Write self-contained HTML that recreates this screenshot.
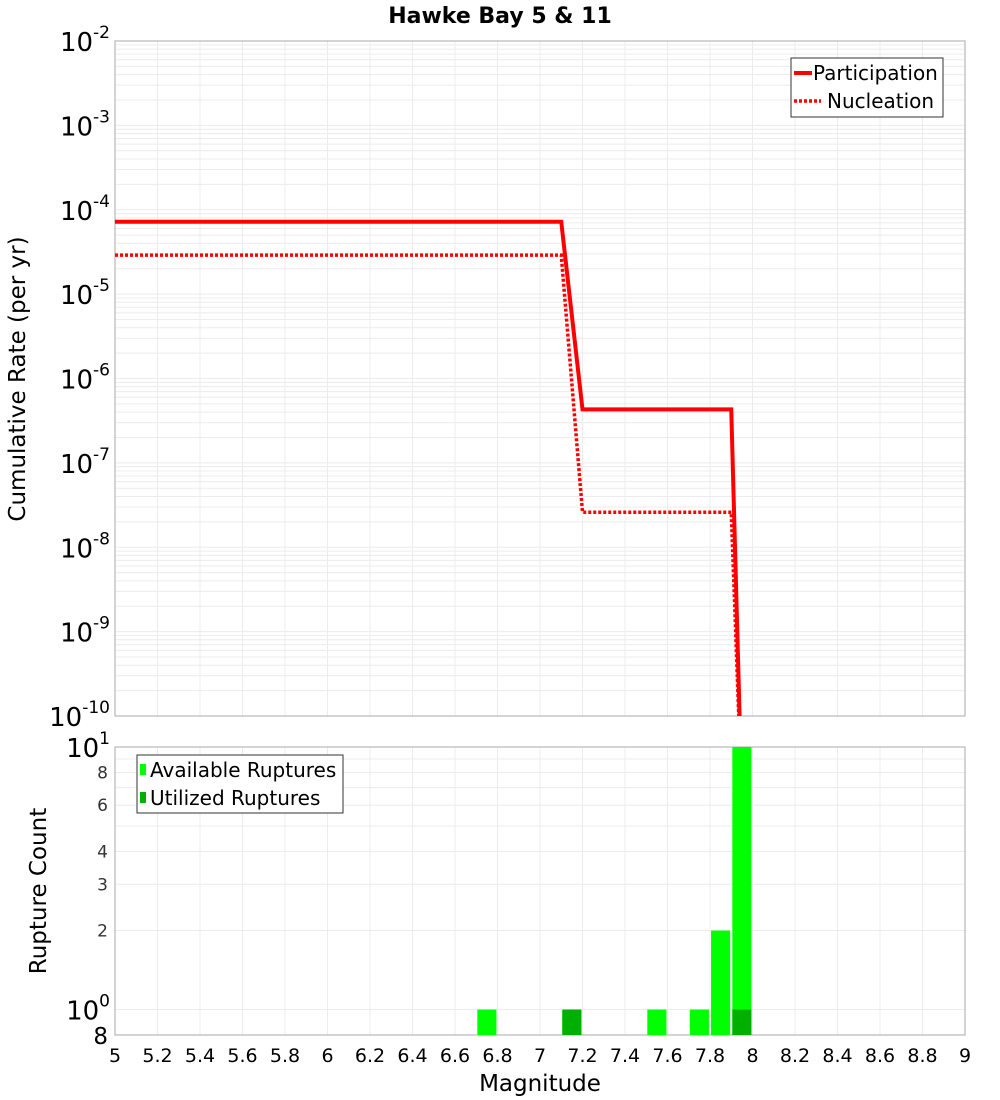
<!DOCTYPE html>
<html><head><meta charset="utf-8"><style>body{margin:0;background:#fff}svg{display:block;font-family:"DejaVu Sans","Liberation Sans",sans-serif}</style></head>
<body>
<svg id="c" width="1000" height="1100" xmlns="http://www.w3.org/2000/svg"></svg>
<script>
const partM=[5,7.1,7.2,7.9,7.95];
const partR=[7.2e-5,7.2e-5,4.3e-7,4.3e-7,1e-11];
const nuclM=[5,7.1,7.2,7.9,7.95];
const nuclR=[2.9e-5,2.9e-5,2.6e-8,2.6e-8,1e-11];
const binM=[6.75,7.15,7.55,7.75,7.85,7.95];
const availC=[1,1,1,1,2,10];
const utilC=[0,1,0,0,0,1];
const xTicks=[5,5.2,5.4,5.6,5.8,6,6.2,6.4,6.6,6.8,7,7.2,7.4,7.6,7.8,8,8.2,8.4,8.6,8.8,9];
const xTickLabels=["5","5.2","5.4","5.6","5.8","6","6.2","6.4","6.6","6.8","7","7.2","7.4","7.6","7.8","8","8.2","8.4","8.6","8.8","9"];
const topExp=[-2,-3,-4,-5,-6,-7,-8,-9,-10];
const botMinor=[2,3,4,6,8];

const svg=document.getElementById('c');const NS='http://www.w3.org/2000/svg';
function mk(t,a,p){const e=document.createElementNS(NS,t);for(const k in a)e.setAttribute(k,a[k]);(p||svg).appendChild(e);return e;}
const L=115,R=965,T1=41,B1=716,T2=747,B2=1035;
const X=m=>L+(m-5)/4*(R-L);
const Y1=v=>T1+(-2-Math.log10(v))/8*(B1-T1);
const lb=Math.log10(0.8);
const Y2=v=>T2+(1-Math.log10(v))/(1-lb)*(B2-T2);

const g=mk('g',{});
for(let e=-10;e<-2;e++)for(let k=1;k<10;k++){const y=Y1(k*Math.pow(10,e));mk('line',{x1:L,x2:R,y1:y,y2:y,stroke:'#ececec'},g);}
xTicks.forEach(m=>{mk('line',{x1:X(m),x2:X(m),y1:T1,y2:B1,stroke:'#ececec'},g);mk('line',{x1:X(m),x2:X(m),y1:T2,y2:B2,stroke:'#ececec'},g);});
[1,2,3,4,5,6,7,8,9,10].forEach(v=>{const y=Y2(v);mk('line',{x1:L,x2:R,y1:y,y2:y,stroke:'#ececec'},g);});
const pa1=mk('rect',{x:L,y:T1,width:R-L,height:B1-T1,fill:'none',stroke:'#aaa'},svg);

const pa2=mk('rect',{x:L,y:T2,width:R-L,height:B2-T2,fill:'none',stroke:'#aaa'},svg);


const cp=mk('clipPath',{id:'cb'});mk('rect',{x:L,y:T2,width:R-L,height:B2-T2},cp);
const bg=mk('g',{'clip-path':'url(#cb)'});
binM.forEach((m,i)=>{const x0=X(m-0.045),x1=X(m+0.045);
 if(availC[i]>0){const r=mk('rect',{x:x0,y:Y2(availC[i]),width:x1-x0,height:B2-Y2(availC[i]),fill:'#00ff00'},bg);
 
 }
 if(utilC[i]>0){const r=mk('rect',{x:x0,y:Y2(utilC[i]),width:x1-x0,height:B2-Y2(utilC[i]),fill:'#00b000'},bg);
 
 }});

const ct=mk('clipPath',{id:'ct'});mk('rect',{x:L,y:T1,width:R-L,height:B1-T1},ct);
const lp=mk('polyline',{points:partM.map((m,i)=>X(m)+','+Y1(partR[i])).join(' '),fill:'none',stroke:'#ff0000','stroke-width':4,'clip-path':'url(#ct)'});


const ln=mk('polyline',{points:nuclM.map((m,i)=>X(m)+','+Y1(nuclR[i])).join(' '),fill:'none',stroke:'#ff0000','stroke-width':3.5,'stroke-dasharray':'3,2','clip-path':'url(#ct)'});



topExp.forEach(e=>{const y=Y1(Math.pow(10,e));const t=mk('text',{x:110,y:y+10,'text-anchor':'end','font-size':26});
 
 
 t.innerHTML='10<tspan dy="-13" font-size="17">'+e+'</tspan>';});
botMinor.forEach(v=>{const t=mk('text',{x:108,y:Y2(v)+6,'text-anchor':'end','font-size':17,fill:'#333'});t.textContent=v;
 
 });
[[10,'1'],[1,'0']].forEach(([v,e])=>{const t=mk('text',{x:110,y:Y2(v)+10,'text-anchor':'end','font-size':26});
 t.innerHTML='10<tspan dy="-13" font-size="17">'+e+'</tspan>';
 
 });
{const t=mk('text',{x:108,y:B2+9,'text-anchor':'end','font-size':23});t.textContent='8';
 
 }
xTicks.forEach((m,i)=>{const t=mk('text',{x:X(m),y:1062,'text-anchor':'middle','font-size':19});t.textContent=xTickLabels[i];
 
 });
function tx(s,a,n){const t=mk('text',a);t.textContent=s;return t;}
tx('Hawke Bay 5 & 11',{x:500,y:23,'text-anchor':'middle','font-size':22,'font-weight':'bold'},'chart-title');
tx('Magnitude',{x:540,y:1091,'text-anchor':'middle','font-size':23},'x-axis-title');
tx('Cumulative Rate (per yr)',{x:0,y:0,'text-anchor':'middle','font-size':23,transform:'translate(25,379) rotate(-90)'},'y-axis-title');
tx('Rupture Count',{x:0,y:0,'text-anchor':'middle','font-size':23,transform:'translate(46,891) rotate(-90)'},'y2-axis-title');

const lg=mk('g',{});
mk('rect',{x:791,y:58,width:152,height:59,fill:'#fff',stroke:'#333'},lg);
mk('line',{x1:794,x2:812,y1:73,y2:73,stroke:'#f00','stroke-width':4},lg);
mk('line',{x1:794,x2:821,y1:101,y2:101,stroke:'#f00','stroke-width':3.5,'stroke-dasharray':'3,2'},lg);
tx('Participation',{x:813,y:80,'font-size':20},'legend-participation');
tx('Nucleation',{x:827,y:108,'font-size':20},'legend-nucleation');
const lg2=mk('g',{});
mk('rect',{x:137,y:755,width:206,height:58,fill:'#fff',stroke:'#333'},lg2);
mk('rect',{x:140,y:764,width:6,height:11,fill:'#00ff00'},lg2);
mk('rect',{x:140,y:792,width:6,height:11,fill:'#00b000'},lg2);
tx('Available Ruptures',{x:150,y:777,'font-size':20},'legend-available');
tx('Utilized Ruptures',{x:150,y:805,'font-size':20},'legend-utilized');
</script>
</body></html>
